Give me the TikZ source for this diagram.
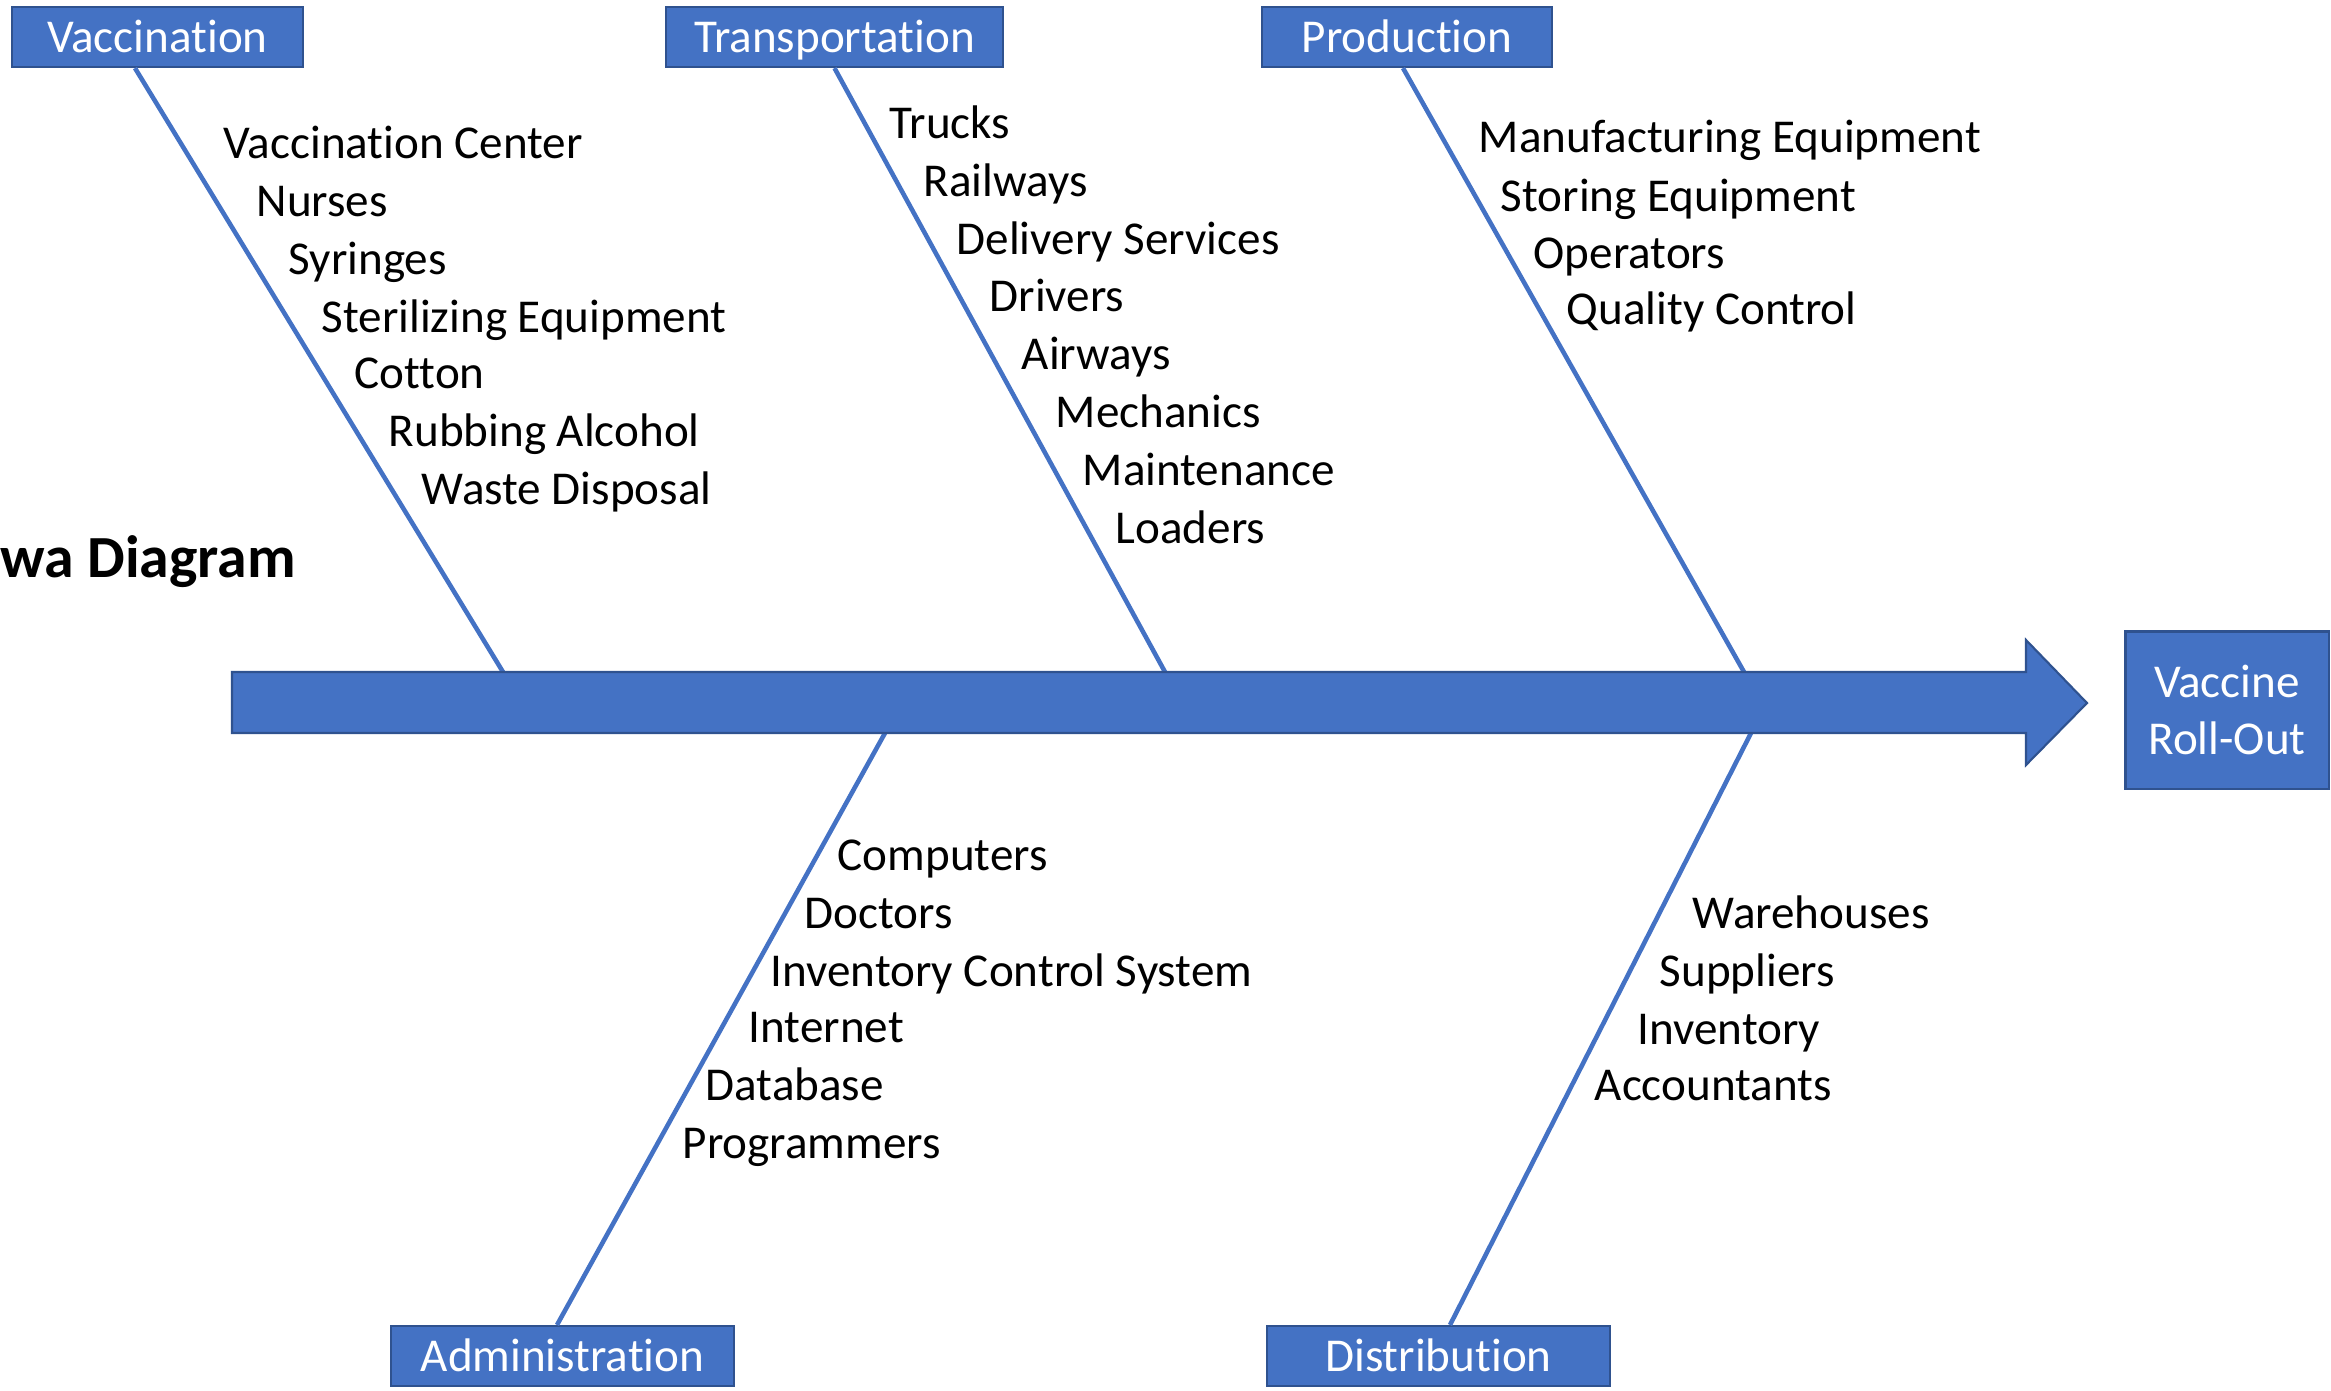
\documentclass[tikz,border=0pt]{standalone}
\usepackage{fontspec}
\setmainfont{Carlito}[Ligatures=NoCommon]
\definecolor{boxblue}{HTML}{4472C4}
\definecolor{edgeblue}{HTML}{2F528F}
\tikzset{
  goal/.style={draw=edgeblue, line width=0.6pt, fill=boxblue, text=white, inner sep=0pt,
    font=\fontsize{13.4}{16.4}\selectfont},
  cat/.style={goal, minimum height=0.6cm, text height=8.6pt, text depth=0pt},
  item/.style={anchor=west, inner sep=0pt, text height=8.6pt, text depth=0pt,
    font=\fontsize{13.4}{16.4}\selectfont},
  bone/.style={draw=boxblue, line width=1.3pt}
}
\begin{document}
\begin{tikzpicture}[x=0.01cm, y=-0.01cm]
\useasboundingbox (0,0) rectangle (2331,1390);
\node[cat, minimum width=2.91cm] (vac) at (157.5,37) {Vaccination};
\node[cat, minimum width=3.37cm] (trans) at (834.5,37) {Transportation};
\node[cat, minimum width=2.90cm] (prod) at (1407,37) {Production};
\node[cat, minimum width=3.42cm] (adm) at (562.5,1356) {Administration};
\node[cat, minimum width=3.43cm] (dist) at (1438.5,1356) {Distribution};
\node[goal, minimum width=2.03cm, minimum height=1.57cm, align=center] (out) at (2227,710) {Vaccine\\Roll-Out};
\node[item, text height=10.9pt, font=\bfseries\fontsize{17}{20}\selectfont] (title) at (0,558) {wa Diagram};
\coordinate (vend) at (503,672);
\coordinate (tend) at (1165,672);
\coordinate (pend) at (1744,672);
\coordinate (aend) at (885,733);
\coordinate (dend) at (1751,733);
\draw[bone] ([xshift=-0.225cm]vac.south) -- (vend);
\draw[bone] (trans.south) -- (tend);
\draw[bone] ([xshift=-0.04cm]prod.south) -- (pend);
\draw[bone] ([xshift=-0.055cm]adm.north) -- (aend);
\draw[bone] ([xshift=0.115cm]dist.north) -- (dend);
\draw[draw=edgeblue, fill=boxblue, line width=0.6pt] (232,672) -- (2026,672) -- (2026,640) -- (2087,703)
  -- (2026,765) -- (2026,733) -- (232,733) -- cycle;
\node[item] (v1) at (223,143) {Vaccination Center};
\node[item] (v2) at (256,201) {Nurses};
\node[item] (v3) at (288,259) {Syringes};
\node[item] (v4) at (321,317) {Sterilizing Equipment};
\node[item] (v5) at (354,373) {Cotton};
\node[item] (v6) at (388,431) {Rubbing Alcohol};
\node[item] (v7) at (421,489) {Waste Disposal};
\node[item] (t1) at (889,123) {Trucks};
\node[item] (t2) at (923,181) {Railways};
\node[item] (t3) at (956,239) {Delivery Services};
\node[item] (t4) at (989,296) {Drivers};
\node[item] (t5) at (1021,354) {Airways};
\node[item] (t6) at (1055,412) {Mechanics};
\node[item] (t7) at (1082,470) {Maintenance};
\node[item] (t8) at (1115,528) {Loaders};
\node[item] (p1) at (1478,137) {Manufacturing Equipment};
\node[item] (p2) at (1500,196) {Storing Equipment};
\node[item] (p3) at (1533,253) {Operators};
\node[item] (p4) at (1566,309) {Quality Control};
\node[item] (a1) at (837,855) {Computers};
\node[item] (a2) at (804,913) {Doctors};
\node[item] (a3) at (770,971) {Inventory Control System};
\node[item] (a4) at (748,1027) {Internet};
\node[item] (a5) at (705,1085) {Database};
\node[item] (a6) at (682,1143) {Programmers};
\node[item] (d1) at (1692,913) {Warehouses};
\node[item] (d2) at (1659,971) {Suppliers};
\node[item] (d3) at (1637,1029) {Inventory};
\node[item] (d4) at (1594,1085) {Accountants};
\end{tikzpicture}
\end{document}
